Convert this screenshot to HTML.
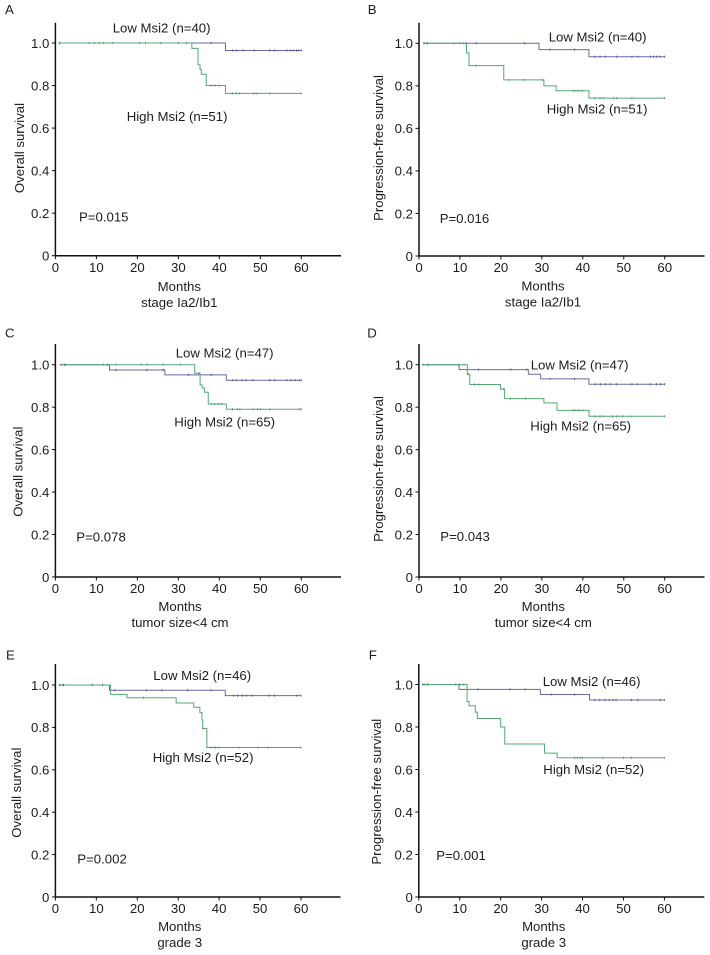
<!DOCTYPE html>
<html lang="en">
<head>
<meta charset="utf-8">
<title>Kaplan-Meier survival curves by Msi2 expression</title>
<style>
html,body{margin:0;padding:0;background:#fff;width:710px;height:955px;overflow:hidden}
svg{display:block;filter:blur(0.35px)}
text{font-family:"Liberation Sans",Arial,sans-serif;font-size:13.2px;fill:#1c1c1c}
</style>
</head>
<body>
<svg id="figure" width="710" height="955" viewBox="0 0 710 955" xmlns="http://www.w3.org/2000/svg">
<g id="panel-a">
<text x="5" y="14">A</text>
<text x="112.7" y="32.3">Low Msi2 (n=40)</text>
<text x="126.7" y="121">High Msi2 (n=51)</text>
<text x="79" y="221.7">P=0.015</text>
<text text-anchor="middle" transform="translate(24 148) rotate(-90)">Overall survival</text>
<text text-anchor="middle" x="179.3" y="291">Months</text>
<text text-anchor="middle" x="179.3" y="307">stage Ia2/Ib1</text>
</g>
<g id="panel-b">
<text x="367.7" y="14">B</text>
<text x="548.7" y="41.3">Low Msi2 (n=40)</text>
<text x="546.7" y="113.7">High Msi2 (n=51)</text>
<text x="439.7" y="223">P=0.016</text>
<text text-anchor="middle" transform="translate(383 148) rotate(-90)">Progression-free survival</text>
<text text-anchor="middle" x="543" y="290.5">Months</text>
<text text-anchor="middle" x="543" y="306.5">stage Ia2/Ib1</text>
</g>
<g id="panel-c">
<text x="5" y="337.7">C</text>
<text x="175.7" y="357.3">Low Msi2 (n=47)</text>
<text x="174.3" y="426.7">High Msi2 (n=65)</text>
<text x="76.3" y="541.7">P=0.078</text>
<text text-anchor="middle" transform="translate(22.7 471.7) rotate(-90)">Overall survival</text>
<text text-anchor="middle" x="180" y="611">Months</text>
<text text-anchor="middle" x="180" y="627">tumor size&lt;4 cm</text>
</g>
<g id="panel-d">
<text x="367.3" y="337.7">D</text>
<text x="530.7" y="369.3">Low Msi2 (n=47)</text>
<text x="530.3" y="430.3">High Msi2 (n=65)</text>
<text x="440.3" y="541">P=0.043</text>
<text text-anchor="middle" transform="translate(383 469) rotate(-90)">Progression-free survival</text>
<text text-anchor="middle" x="543.3" y="611">Months</text>
<text text-anchor="middle" x="543.3" y="627">tumor size&lt;4 cm</text>
</g>
<g id="panel-e">
<text x="6" y="659.3">E</text>
<text x="153.3" y="680">Low Msi2 (n=46)</text>
<text x="152.7" y="762">High Msi2 (n=52)</text>
<text x="77.3" y="863.7">P=0.002</text>
<text text-anchor="middle" transform="translate(21 792.7) rotate(-90)">Overall survival</text>
<text text-anchor="middle" x="179.7" y="931">Months</text>
<text text-anchor="middle" x="179.7" y="947">grade 3</text>
</g>
<g id="panel-f">
<text x="368.7" y="659.3">F</text>
<text x="542.7" y="686">Low Msi2 (n=46)</text>
<text x="543.3" y="774">High Msi2 (n=52)</text>
<text x="436.3" y="860">P=0.001</text>
<text text-anchor="middle" transform="translate(381 791.7) rotate(-90)">Progression-free survival</text>
<text text-anchor="middle" x="543.7" y="931">Months</text>
<text text-anchor="middle" x="543.7" y="947">grade 3</text>
</g>
</svg>
<script>
// Axis tick labels
const xTickValues = [0, 10, 20, 30, 40, 50, 60];
const yTickValues = [0, 0.2, 0.4, 0.6, 0.8, 1.0];
const yTickLabels = ['0', '0.2', '0.4', '0.6', '0.8', '1.0'];

// Panel A: overall survival, stage Ia2/Ib1
const aLowTimes = [0.8, 41.5, 60];
const aLowSurv = [1, 0.965, 0.965];
const aLowCensor = [1, 32, 38, 43.3, 44.2, 45.8, 48.5, 52.3, 53.5, 56.5, 57.3, 58, 58.8, 59.3, 60];
const aHighTimes = [0.8, 33.3, 34.8, 35.3, 35.6, 36.8, 41.5, 60];
const aHighSurv = [1, 0.975, 0.897, 0.875, 0.853, 0.8, 0.763, 0.763];
const aHighCensor = [1, 8.2, 9.5, 10.8, 11.8, 14, 20.5, 22, 25.7, 30, 38, 39, 40, 43.2, 44.2, 44.9, 48.3, 49, 52.3, 60];

// Panel B: progression-free survival, stage Ia2/Ib1
const bLowTimes = [1, 29.3, 41.5, 60];
const bLowSurv = [1, 0.97, 0.937, 0.937];
const bLowCensor = [1.2, 2, 14, 25.8, 32, 38, 43, 44.2, 45.5, 48.3, 52, 53.5, 56.5, 57.3, 58, 58.8, 60];
const bHighTimes = [1, 11.6, 12.2, 20.7, 30.5, 33.5, 41.5, 60];
const bHighSurv = [1, 0.955, 0.895, 0.828, 0.8, 0.777, 0.742, 0.742];
const bHighCensor = [1.2, 2, 8.5, 10, 10.8, 11.5, 14, 22, 25.8, 30.2, 37.7, 38.3, 39, 39.8, 43, 44.2, 45, 47.5, 48.3, 52, 60];

// Panel C: overall survival, tumor size<4 cm
const cLowTimes = [1, 13.2, 26.7, 41.7, 60];
const cLowSurv = [1, 0.975, 0.952, 0.927, 0.927];
const cLowCensor = [2.2, 14.8, 22.3, 26.3, 32.5, 38, 43.3, 44.2, 45.5, 46.5, 48.2, 52.3, 53.5, 56.5, 57.5, 58.5, 59.5, 60];
const cHighTimes = [1, 34, 35.3, 35.8, 36.4, 37.3, 41.7, 60];
const cHighSurv = [1, 0.96, 0.905, 0.89, 0.87, 0.815, 0.79, 0.79];
const cHighCensor = [1.5, 2.5, 11.7, 12.7, 14.8, 20.9, 22.4, 26.3, 30.5, 35, 38, 38.8, 39.7, 40.5, 43.2, 44.4, 45, 48.2, 49.3, 50, 52.3, 59.5, 60];

// Panel D: progression-free survival, tumor size<4 cm
const dLowTimes = [0.8, 9.8, 26.7, 29.7, 41.5, 60];
const dLowSurv = [1, 0.977, 0.955, 0.933, 0.908, 0.908];
const dLowCensor = [2.2, 14.5, 22.4, 26.3, 32, 38, 43, 44.3, 45.5, 46.7, 48.2, 52, 53.2, 56.5, 58, 59, 60];
const dHighTimes = [0.8, 11.8, 12.4, 19.9, 20.9, 30.5, 33.7, 41.5, 60];
const dHighSurv = [1, 0.955, 0.907, 0.885, 0.84, 0.82, 0.785, 0.757, 0.757];
const dHighCensor = [1, 2.2, 9.7, 11, 12, 13.5, 14.6, 20.7, 22.3, 26, 37.7, 38.3, 39, 40, 43, 44.2, 45, 47.3, 48.3, 49.7, 52, 60];

// Panel E: overall survival, grade 3
const eLowTimes = [0.8, 13.2, 41.5, 60];
const eLowSurv = [1, 0.975, 0.95, 0.95];
const eLowCensor = [1, 1.7, 2, 9, 11.5, 14.5, 22.3, 26, 32.3, 38, 43.5, 44.5, 45.7, 46.7, 48, 52.2, 53.5, 59, 60];
const eHighTimes = [0.8, 13.5, 17.5, 29.5, 33.8, 35.3, 35.8, 36, 37, 60];
const eHighSurv = [1, 0.956, 0.94, 0.915, 0.895, 0.87, 0.835, 0.795, 0.705, 0.705];
const eHighCensor = [1, 2, 9, 11.5, 21.5, 36, 38, 38.8, 39.2, 40, 44.8, 49.5, 52, 60];

// Panel F: progression-free survival, grade 3
const fLowTimes = [0.8, 9.8, 29.7, 41.7, 60];
const fLowSurv = [1, 0.977, 0.953, 0.927, 0.927];
const fLowCensor = [1, 1.5, 2.2, 14.5, 22.3, 26, 32.3, 38, 43, 44.2, 45.5, 46.5, 47.5, 48.2, 52, 53.5, 59, 60];
const fHighTimes = [0.8, 11.8, 12.3, 13.8, 14.3, 20, 21, 30.7, 33.8, 60];
const fHighSurv = [1, 0.92, 0.9, 0.87, 0.84, 0.8, 0.72, 0.677, 0.655, 0.655];
const fHighCensor = [1, 1.5, 2.2, 9, 10, 11, 38, 38.8, 39.5, 40, 45, 50, 52, 60];

const NS = 'http://www.w3.org/2000/svg';

function makeEl(parent, tag, attrs, text) {
  const el = document.createElementNS(NS, tag);
  for (const k in attrs) el.setAttribute(k, attrs[k]);
  if (text !== undefined) el.textContent = text;
  parent.appendChild(el);
  return el;
}

function levelAt(times, surv, t) {
  let s = surv[0];
  for (let i = 0; i < times.length; i++) {
    if (times[i] <= t) s = surv[i];
  }
  return s;
}

function drawCurve(group, id, group_key, xPos, yPos, times, surv, censor, lineColor, markColor) {
  let d = 'M' + xPos(times[0]).toFixed(2) + ' ' + yPos(surv[0]).toFixed(2);
  for (let i = 1; i < times.length; i++) {
    d += 'H' + xPos(times[i]).toFixed(2) + 'V' + yPos(surv[i]).toFixed(2);
  }
  const line = makeEl(group, 'path', {d: d, fill: 'none', stroke: lineColor, 'stroke-width': 1});
  
  
  censor.forEach(function (t) {
    const y = yPos(levelAt(times, surv, t));
    const mark = makeEl(group, 'line', {x1: xPos(t), x2: xPos(t), y1: y - 1.1, y2: y + 1.1, stroke: markColor, 'stroke-width': 0.9, opacity: 0.8});
    
    
  });
}

function drawPanel(id, x0, x60, xEnd, y0, y1, yTop, low, high) {
  const group = document.getElementById('panel-' + id);
  const xPos = function (m) { return x0 + (x60 - x0) * m / 60; };
  const yPos = function (s) { return y0 + (y1 - y0) * s; };

  const axes = makeEl(group, 'path', {
    d: 'M' + x0 + ' ' + yTop + 'V' + y0 + 'H' + xEnd,
    fill: 'none', stroke: '#111', 'stroke-width': 1.5
  });
  
  

  xTickValues.forEach(function (v) {
    const tick = makeEl(group, 'line', {x1: xPos(v), x2: xPos(v), y1: y0, y2: y0 + 3.5, stroke: '#111', 'stroke-width': 1});
    
    
    const label = makeEl(group, 'text', {x: xPos(v), y: y0 + 16.2, 'text-anchor': 'middle'}, String(v));
    
    
  });

  yTickValues.forEach(function (v, i) {
    const tick = makeEl(group, 'line', {x1: x0 - 3.5, x2: x0, y1: yPos(v), y2: yPos(v), stroke: '#111', 'stroke-width': 1});
    
    
    const label = makeEl(group, 'text', {x: x0 - 6, y: yPos(v) + 4.8, 'text-anchor': 'end'}, yTickLabels[i]);
    
    
  });

  drawCurve(group, id, 'low-msi2', xPos, yPos, low[0], low[1], low[2], '#666aa2', '#3a4488');
  drawCurve(group, id, 'high-msi2', xPos, yPos, high[0], high[1], high[2], '#55a873', '#379157');
}

drawPanel('a', 55.4, 301.3, 341, 255.7, 43, 22.7, [aLowTimes, aLowSurv, aLowCensor], [aHighTimes, aHighSurv, aHighCensor]);
drawPanel('b', 419, 664.7, 704.5, 256, 43.3, 22.7, [bLowTimes, bLowSurv, bLowCensor], [bHighTimes, bHighSurv, bHighCensor]);
drawPanel('c', 55.4, 301.3, 341, 577, 364.7, 344, [cLowTimes, cLowSurv, cLowCensor], [cHighTimes, cHighSurv, cHighCensor]);
drawPanel('d', 419, 664.7, 704.5, 577, 364.7, 344, [dLowTimes, dLowSurv, dLowCensor], [dHighTimes, dHighSurv, dHighCensor]);
drawPanel('e', 55.4, 301, 340.5, 897, 685, 664, [eLowTimes, eLowSurv, eLowCensor], [eHighTimes, eHighSurv, eHighCensor]);
drawPanel('f', 418.8, 664.4, 704.3, 897, 684.5, 664, [fLowTimes, fLowSurv, fLowCensor], [fHighTimes, fHighSurv, fHighCensor]);
</script>
</body>
</html>
